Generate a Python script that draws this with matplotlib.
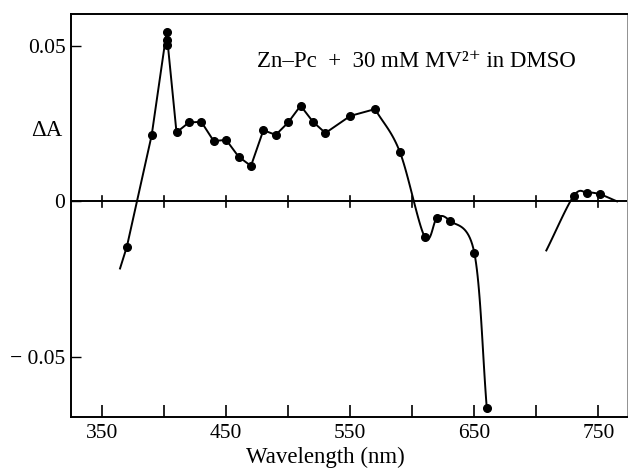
import numpy as np
import matplotlib.pyplot as plt

plt.rcParams['font.family'] = ['Liberation Serif', 'DejaVu Serif']

# measured points, main band
wl_main = [370, 390, 402, 410, 420, 430, 440, 450, 460, 470, 480, 490, 500,
           510, 520, 530, 550, 570, 590, 610, 620, 630, 650, 660]
dA_main = [-0.0146, 0.0213, 0.0545, 0.0222, 0.0254, 0.0256, 0.0194, 0.0198,
           0.0144, 0.0114, 0.0229, 0.0214, 0.0254, 0.0308, 0.0256, 0.0220,
           0.0275, 0.0297, 0.0159, -0.0114, -0.0053, -0.0062, -0.0166, -0.0664]
# extra readings at the peak
wl_peak = [402, 402]
dA_peak = [0.0520, 0.0503]
# measured points, near-IR band
wl_ir = [730, 741, 751]
dA_ir = [0.0017, 0.0028, 0.0023]
# ends of the hand-drawn curves (no dots)
wl_main_start, dA_main_start = 364.5, -0.0216
wl_ir_start, dA_ir_start = 708, -0.0158
wl_ir_end, dA_ir_end = 765, 0.0


def smooth(x, y, n=20):
    # Catmull-Rom through the given points, for drawing only
    x = np.asarray(x, float)
    y = np.asarray(y, float)
    sx, sy = 450.0, 0.13
    p = np.column_stack([x / sx, y / sy])
    p = np.vstack([2 * p[0] - p[1], p, 2 * p[-1] - p[-2]])
    out = []
    t = np.linspace(0, 1, n, endpoint=False)[:, None]
    for i in range(1, len(p) - 2):
        p0, p1, p2, p3 = p[i - 1], p[i], p[i + 1], p[i + 2]
        c = 0.5 * ((2 * p1) + (-p0 + p2) * t + (2 * p0 - 5 * p1 + 4 * p2 - p3) * t ** 2
                   + (-p0 + 3 * p1 - 3 * p2 + p3) * t ** 3)
        out.append(c)
    out.append(p[-2][None, :])
    out = np.vstack(out)
    return out[:, 0] * sx, out[:, 1] * sy


fig = plt.figure(figsize=(6.29, 4.69), dpi=100)
ax = fig.add_axes([0.1129, 0.1109, 0.8839, 0.8592])

# the curve: straight up to 570, smooth after
wx = [wl_main_start] + wl_main
wy = [dA_main_start] + dA_main
i1 = wx.index(570)
ax.plot(wx[:i1 + 1], wy[:i1 + 1], color='black', lw=1.4)
ax.plot(*smooth(wx[i1:], wy[i1:]), color='black', lw=1.4)
ax.plot(wl_main, dA_main, 'o', color='black', ms=5.5)
ax.plot(wl_peak, dA_peak, 'o', color='black', ms=5.5)

lx, ly = smooth([wl_ir_start] + wl_ir + [wl_ir_end], [dA_ir_start] + dA_ir + [dA_ir_end])
ax.plot(lx, ly, color='black', lw=1.4)
ax.plot(wl_ir, dA_ir, 'o', color='black', ms=5.5)

# zero line with its own tick marks
ax.axhline(0, color='black', lw=1.4)
for xt in range(350, 751, 50):
    ax.plot([xt, xt], [-0.0018, 0.0018], color='black', lw=1.2)

ax.set_xlim(325, 773)
ax.set_ylim(-0.0694, 0.0603)
ax.set_xticks(range(350, 751, 50))
ax.set_xticklabels(['350', '', '450', '', '550', '', '650', '', '750'])
ax.set_yticks([-0.05, 0, 0.05])
ax.set_yticklabels(['\u2212 0.05', '0', '0.05'])
ax.tick_params(axis='x', direction='in', length=9, width=1.2, labelsize=15.5, pad=5)
ax.tick_params(axis='y', direction='in', length=7, width=1.0, labelsize=15.5, pad=4)
for s in ax.spines.values():
    s.set_linewidth(1.4)
ax.spines['right'].set_linewidth(0.6)
ax.spines['right'].set_color('0.5')

ax.set_xlabel('Wavelength (nm)', fontsize=16.5)
ax.xaxis.set_label_coords(0.457, -0.074)
ax.text(-0.015, 0.71, '\u0394A', transform=ax.transAxes, fontsize=16.5,
        ha='right', va='center')
ax.text(475, 0.0449, 'Zn\u2013Pc  +  30 mM MV\u00b2\u207a in DMSO', fontsize=16.5,
        ha='left', va='center')

fig.savefig('out.png', dpi=100)
